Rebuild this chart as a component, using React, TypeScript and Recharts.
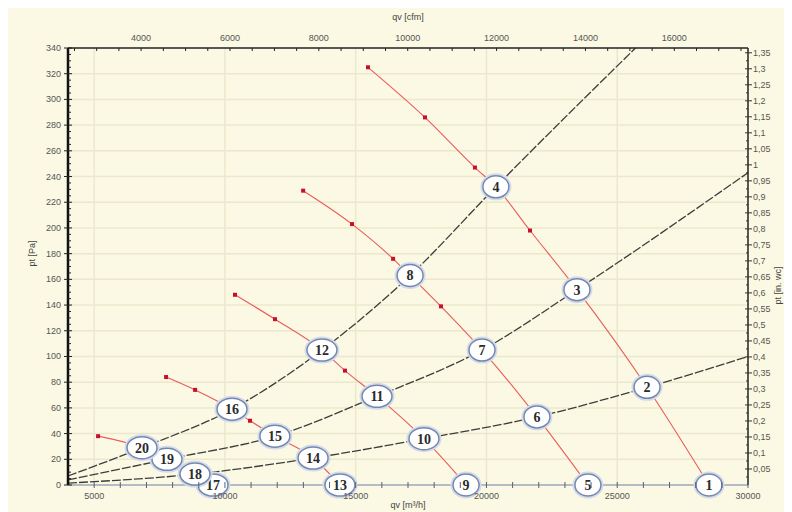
import React from "react";
import { ComposedChart, Line, Scatter, XAxis, YAxis, ReferenceLine } from "recharts";

// unit conversions for the secondary axes
const PA_PER_INWC = 249.09;
const CFM_PER_M3H = 0.5886;

const Q_MIN = 4000;
const Q_MAX = 30000;
const P_MAX = 340;

// tick labels
const qvLabels = [5000, 10000, 15000, 20000, 25000, 30000];
const cfmLabels = [4000, 6000, 8000, 10000, 12000, 14000, 16000];
const paLabels = [0, 20, 40, 60, 80, 100, 120, 140, 160, 180, 200, 220, 240, 260, 280, 300, 320, 340];

// system curves (black, dashed)
const systemA = [
  { q: 4000, p: 7 },
  { q: 6830, p: 29 },
  { q: 10270, p: 59 },
  { q: 13710, p: 105 },
  { q: 17080, p: 163 },
  { q: 20360, p: 232 },
  { q: 25700, p: 340 },
];
const systemB = [
  { q: 4000, p: 4 },
  { q: 7785, p: 20 },
  { q: 11910, p: 38 },
  { q: 15815, p: 69 },
  { q: 19830, p: 105 },
  { q: 23460, p: 152 },
  { q: 30000, p: 243 },
];
const systemC = [
  { q: 4000, p: 1.5 },
  { q: 8855, p: 8.5 },
  { q: 13370, p: 21 },
  { q: 17610, p: 36 },
  { q: 21930, p: 53 },
  { q: 26140, p: 76 },
  { q: 30000, p: 100 },
];

// fan curves (red)
const fan1 = [
  { q: 15470, p: 325 },
  { q: 17650, p: 286 },
  { q: 19560, p: 247 },
  { q: 20360, p: 232 },
  { q: 21665, p: 198 },
  { q: 23460, p: 152 },
  { q: 26140, p: 76 },
  { q: 28510, p: 0 },
];
const fan2 = [
  { q: 12990, p: 229 },
  { q: 14860, p: 203 },
  { q: 16430, p: 176 },
  { q: 17080, p: 163 },
  { q: 18260, p: 139 },
  { q: 19830, p: 105 },
  { q: 21930, p: 53 },
  { q: 23880, p: 0 },
];
const fan3 = [
  { q: 10385, p: 148 },
  { q: 11915, p: 129 },
  { q: 13710, p: 105 },
  { q: 14590, p: 89 },
  { q: 15815, p: 69 },
  { q: 17610, p: 36 },
  { q: 19220, p: 0 },
];
const fan4 = [
  { q: 7750, p: 84 },
  { q: 8860, p: 74 },
  { q: 10270, p: 59 },
  { q: 10960, p: 50 },
  { q: 11910, p: 38 },
  { q: 13370, p: 21 },
  { q: 14400, p: 0 },
];
const fan5 = [
  { q: 5150, p: 38 },
  { q: 6830, p: 29 },
  { q: 7785, p: 20 },
  { q: 8855, p: 8.5 },
  { q: 9545, p: 0 },
];

// numbered operating points
const points = [
  { n: 1, q: 28510, p: 0 },
  { n: 2, q: 26140, p: 76 },
  { n: 3, q: 23460, p: 152 },
  { n: 4, q: 20360, p: 232 },
  { n: 5, q: 23880, p: 0 },
  { n: 6, q: 21930, p: 53 },
  { n: 7, q: 19830, p: 105 },
  { n: 8, q: 17080, p: 163 },
  { n: 9, q: 19220, p: 0 },
  { n: 10, q: 17610, p: 36 },
  { n: 11, q: 15815, p: 69 },
  { n: 12, q: 13710, p: 105 },
  { n: 13, q: 14400, p: 0 },
  { n: 14, q: 13370, p: 21 },
  { n: 15, q: 11910, p: 38 },
  { n: 16, q: 10270, p: 59 },
  { n: 17, q: 9545, p: 0 },
  { n: 18, q: 8855, p: 8.5 },
  { n: 19, q: 7785, p: 20 },
  { n: 20, q: 6830, p: 29 },
];

const systems = [systemA, systemB, systemC];
const fans = [fan1, fan2, fan3, fan4, fan5];

// range of the cfm axis, so the top axis has something to scale
const cfmRange = [
  { c: Q_MIN * CFM_PER_M3H, p: 0 },
  { c: Q_MAX * CFM_PER_M3H, p: 0 },
];

// minor ticks
const qvTicks: number[] = [];
for (let v = 5000; v <= Q_MAX; v += 1000) qvTicks.push(v);
const cfmTicks: number[] = [];
for (let v = 2500; v <= 17500; v += 500) cfmTicks.push(v);
const paTicks: number[] = [];
for (let v = 0; v <= P_MAX; v += 5) paTicks.push(v);
const inwcTicks: number[] = [];
for (let i = 1; i <= 54; i++) inwcTicks.push(Math.round(i * 25) / 1000);

const BG = "#fbf9e3";
const GRID = "#ebe8cd";
const TICK_FONT = "Liberation Sans, Arial, sans-serif";
const TICK_FILL = "#555";

const LeftTick = (props: any) => {
  const { x, y, payload } = props;
  const v = payload.value;
  const major = paLabels.includes(v);
  return (
    <g>
      <line x1={x - (major ? 4 : 0)} x2={x + (major ? 4 : 3)} y1={y} y2={y} stroke="#222" />
      {major && (
        <text x={x - 7} y={y} dy={3} textAnchor="end" fontSize={9} fill={TICK_FILL} fontFamily={TICK_FONT}>
          {v}
        </text>
      )}
    </g>
  );
};

const RightTick = (props: any) => {
  const { x, y, payload, index } = props;
  const v = payload.value;
  const major = index % 2 === 1;
  const txt = String(parseFloat(v.toFixed(2))).replace(".", ",");
  return (
    <g>
      <line x1={x - (major ? 3 : 2)} x2={x + (major ? 4 : 0)} y1={y} y2={y} stroke="#333" />
      {major && (
        <text x={x + 5} y={y} dy={3} textAnchor="start" fontSize={9} fill={TICK_FILL} fontFamily={TICK_FONT}>
          {txt}
        </text>
      )}
    </g>
  );
};

const BottomTick = (props: any) => {
  const { x, y, payload } = props;
  const v = payload.value;
  const major = qvLabels.includes(v);
  return (
    <g>
      <line x1={x} x2={x} y1={y - 3} y2={y + 3} stroke="#55607a" />
      {major && (
        <text x={x} y={y + 14} textAnchor="middle" fontSize={9} fill={TICK_FILL} fontFamily={TICK_FONT}>
          {v}
        </text>
      )}
    </g>
  );
};

const TopTick = (props: any) => {
  const { x, y, payload } = props;
  const v = payload.value;
  const major = cfmLabels.includes(v);
  return (
    <g>
      <line x1={x} x2={x} y1={y} y2={y + 3} stroke="#222" />
      {major && (
        <text x={x} y={y - 7} textAnchor="middle" fontSize={9} fill={TICK_FILL} fontFamily={TICK_FONT}>
          {v}
        </text>
      )}
    </g>
  );
};

const RedDot = (props: any) => {
  const { cx, cy, index } = props;
  return <rect key={`d-${index}`} x={cx - 2} y={cy - 2} width={4} height={4} fill="#c8102e" />;
};

const PointLabel = (props: any) => {
  const { cx, cy, payload } = props;
  const rx = payload.n >= 10 ? 15 : 13;
  return (
    <g>
      <ellipse cx={cx} cy={cy} rx={rx + 1.5} ry={12.5} fill="none" stroke="#d3dbeb" strokeWidth={2} />
      <ellipse cx={cx} cy={cy} rx={rx} ry={11} fill="#fff" stroke="#7487b0" strokeWidth={1.5} />
      <text
        x={cx}
        y={cy}
        dy={5}
        textAnchor="middle"
        fontSize={14}
        fontWeight="bold"
        fill="#2b2b2b"
        fontFamily="Liberation Serif, serif"
      >
        {payload.n}
      </text>
    </g>
  );
};

export default function App() {
  return (
    <div style={{ width: 784, height: 504, background: BG }}>
      <ComposedChart width={784} height={504} margin={{ top: 18, right: 14, bottom: 7, left: 20 }}>
        <XAxis
          dataKey="q"
          type="number"
          domain={[Q_MIN, Q_MAX]}
          ticks={qvTicks}
          interval={0}
          tick={<BottomTick />}
          tickLine={false}
          tickSize={0}
          tickMargin={0}
          height={20}
          stroke="#6f7fa8"
          label={{ value: "qv [m³/h]", position: "bottom", offset: -3, fontSize: 9, fill: "#444", fontFamily: TICK_FONT }}
        />
        <XAxis
          xAxisId="top"
          dataKey="c"
          orientation="top"
          type="number"
          domain={[Q_MIN * CFM_PER_M3H, Q_MAX * CFM_PER_M3H]}
          ticks={cfmTicks}
          interval={0}
          tick={<TopTick />}
          tickLine={false}
          tickSize={0}
          tickMargin={0}
          height={22}
          stroke="#222"
          strokeWidth={1.5}
          allowDataOverflow
          label={{ value: "qv [cfm]", position: "top", offset: 6, fontSize: 9, fill: "#444", fontFamily: TICK_FONT }}
        />
        <YAxis
          dataKey="p"
          type="number"
          domain={[0, P_MAX]}
          ticks={paTicks}
          interval={0}
          tick={<LeftTick />}
          tickLine={false}
          tickSize={0}
          tickMargin={0}
          width={40}
          stroke="#111"
          strokeWidth={2.5}
          label={{ value: "pt [Pa]", angle: -90, position: "insideLeft", offset: 4, fontSize: 9, fill: "#444", fontFamily: TICK_FONT }}
        />
        <YAxis
          yAxisId="right"
          orientation="right"
          type="number"
          domain={[0, P_MAX / PA_PER_INWC]}
          ticks={inwcTicks}
          interval={0}
          tick={<RightTick />}
          tickLine={false}
          tickSize={0}
          tickMargin={0}
          width={30}
          stroke="#222"
          strokeWidth={1.5}
          allowDataOverflow
          label={{ value: "pt [in. wc]", angle: -90, position: "insideRight", offset: 0, fontSize: 9, fill: "#444", fontFamily: TICK_FONT }}
        />

        {qvLabels.slice(0, 5).map((v) => (
          <ReferenceLine key={`vx-${v}`} x={v} stroke={GRID} strokeWidth={1.5} />
        ))}
        {paLabels.slice(1, 17).map((v) => (
          <ReferenceLine key={`hy-${v}`} y={v} stroke={GRID} strokeWidth={1.5} />
        ))}

        <Line
          xAxisId="top"
          data={cfmRange}
          dataKey="p"
          stroke="none"
          dot={false}
          activeDot={false}
          legendType="none"
          isAnimationActive={false}
        />

        {systems.map((d, i) => (
          <Line
            key={`sys-${i}`}
            data={d}
            dataKey="p"
            type="monotone"
            stroke="#3d3d3d"
            strokeWidth={1.3}
            strokeDasharray="9 2"
            dot={false}
            activeDot={false}
            isAnimationActive={false}
          />
        ))}
        {fans.map((d, i) => (
          <Line
            key={`fan-${i}`}
            data={d}
            dataKey="p"
            type="monotone"
            stroke="#ea5b5b"
            strokeWidth={1.1}
            dot={<RedDot />}
            activeDot={false}
            isAnimationActive={false}
          />
        ))}
        <Scatter data={points} dataKey="p" shape={<PointLabel />} isAnimationActive={false} />
      </ComposedChart>
    </div>
  );
}
